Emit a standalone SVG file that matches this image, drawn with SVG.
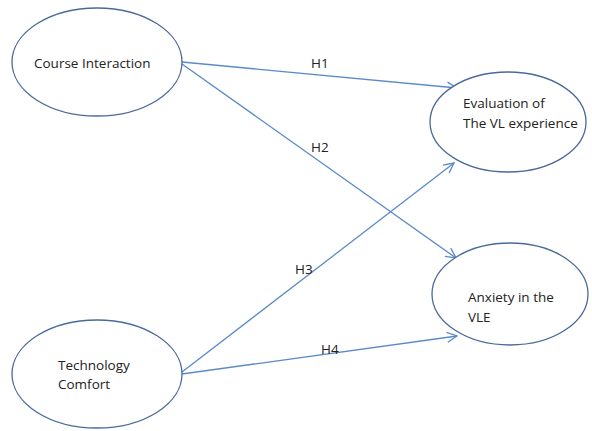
<svg xmlns="http://www.w3.org/2000/svg" width="592" height="431" viewBox="0 0 592 431">
<defs>
<style>
.node ellipse{fill:#fff;stroke:#4a6a9a;stroke-width:1.3}
.node text,.lbl{font-family:"Open Sans","Liberation Sans",sans-serif;font-size:13.5px;fill:#222}
.conn line{stroke:#5b8ac8;stroke-width:1.3;fill:none}
</style>
<marker id="arr" viewBox="0 0 12 12" refX="11" refY="6" markerWidth="12" markerHeight="12" markerUnits="userSpaceOnUse" orient="auto">
<polyline points="1,1 11,6 1,11" fill="none" stroke="#5b8ac8" stroke-width="1.3"/>
</marker>
</defs>
<rect width="592" height="431" fill="#fff"/>
<g class="conn">
<line x1="182" y1="62" x2="457" y2="88" marker-end="url(#arr)"/>
<line x1="182" y1="64" x2="456" y2="258" marker-end="url(#arr)"/>
<line x1="182" y1="372" x2="454" y2="163" marker-end="url(#arr)"/>
<line x1="182" y1="374" x2="457" y2="336" marker-end="url(#arr)"/>
</g>
<g id="lbl-h1"><text class="lbl" x="311" y="68">H1</text></g>
<g id="lbl-h2"><text class="lbl" x="311" y="152">H2</text></g>
<g id="lbl-h3"><text class="lbl" x="295" y="274">H3</text></g>
<g id="lbl-h4"><text class="lbl" x="321" y="354">H4</text></g>
<g id="course" class="node">
<ellipse cx="97" cy="62" rx="85" ry="54"/>
<text x="34" y="68">Course Interaction</text>
</g>
<g id="evaluation" class="node">
<ellipse cx="508" cy="122" rx="78" ry="50"/>
<text x="463" y="108">Evaluation of</text>
<text x="463" y="128">The VL experience</text>
</g>
<g id="anxiety" class="node">
<ellipse cx="510" cy="294" rx="78" ry="51"/>
<text x="468" y="302">Anxiety in the</text>
<text x="468" y="322">VLE</text>
</g>
<g id="tech" class="node">
<ellipse cx="97" cy="374" rx="85" ry="54"/>
<text x="58" y="370">Technology</text>
<text x="58" y="389">Comfort</text>
</g>
</svg>
